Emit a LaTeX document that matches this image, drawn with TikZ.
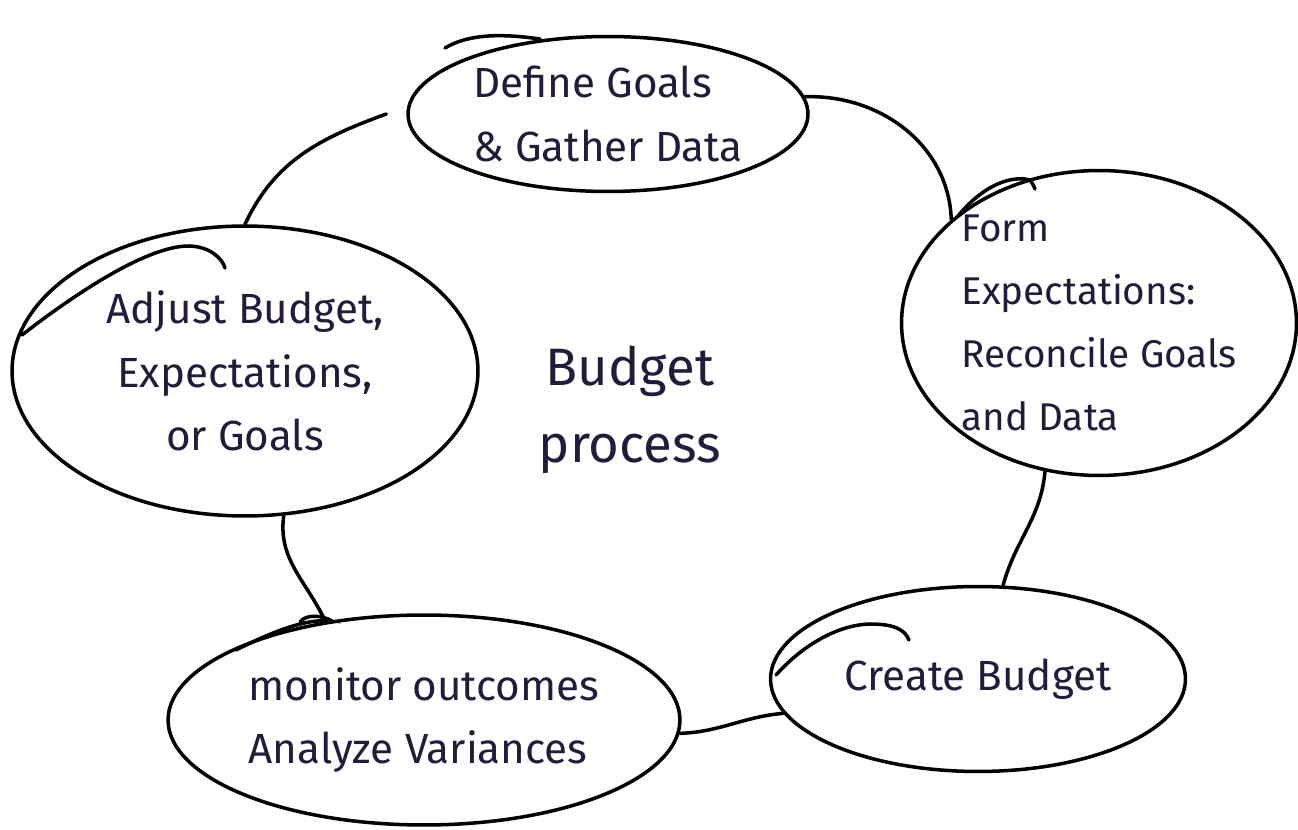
\documentclass[tikz,border=0pt]{standalone}
\usepackage{fontspec}
\setmainfont{Fira Sans}
\usetikzlibrary{shapes.geometric}
\definecolor{budgetink}{HTML}{1E1D3C}

\begin{document}
\begin{tikzpicture}[x=0.02cm,y=0.02cm,line width=2pt,
  stage/.style={draw,ellipse,inner sep=0pt,text=budgetink,font=\fontsize{24}{36}\selectfont},
  link/.style={line cap=round},
  pen/.style={line cap=round}]
  \useasboundingbox (0,0) rectangle (1298,829);
  \node[stage,align=left,minimum width=8cm,minimum height=3.1cm] (define) at (608,715) {Define Goals\\\& Gather Data};
  \node[stage,align=left,minimum width=7.9cm,minimum height=6.1cm,inner sep=-14pt,font=\fontsize{22}{36}\selectfont] (form) at (1099,506) {Form\\Expectations:\\Reconcile Goals\\and Data};
  \node[stage,minimum width=8.3cm,minimum height=3.7cm] (create) at (978,150) {Create Budget};
  \node[stage,align=left,minimum width=10.24cm,minimum height=4.2cm] (monitor) at (424,109) {monitor outcomes\\Analyze Variances};
  \node[stage,align=center,minimum width=9.32cm,minimum height=5.8cm] (adjust) at (245,458) {Adjust Budget,\\Expectations,\\or Goals};
  \node[align=center,text=budgetink,font=\fontsize{30}{44}\selectfont] (title) at (630,419) {Budget\\process};
  % cycle
  \draw[link] (adjust.north) to[out=65,in=200] ([xshift=-4mm]define.west);
  \draw[link] (define.5) to[out=2,in=92] (form.145);
  \draw[link] (form.250) to[out=265,in=75] (create.75);
  \draw[link] (create.190) to[out=185,in=2] (monitor.-3);
  \draw[link] (monitor.135) to[out=115,in=262] (adjust.285);
  % pen overlaps where each outline was closed
  \draw[pen] (445,781) .. controls (470,796) and (505,795) .. (540,790);
  \draw[pen] (958,613) .. controls (980,640) and (1005,652) .. (1025,650) .. controls (1031,649) .. (1035,640);
  \draw[pen] (22,494) .. controls (80,539) and (150,584) .. (190,583) .. controls (210,582) and (222,571) .. (225,561);
  \draw[pen] (776,154) .. controls (800,181) and (835,204) .. (870,205) .. controls (895,205) and (905,199) .. (909,189);
  \draw[pen] (236,179) .. controls (270,196) and (305,211) .. (332,208) .. controls (320,215) and (305,214) .. (300,207);
\end{tikzpicture}
\end{document}
